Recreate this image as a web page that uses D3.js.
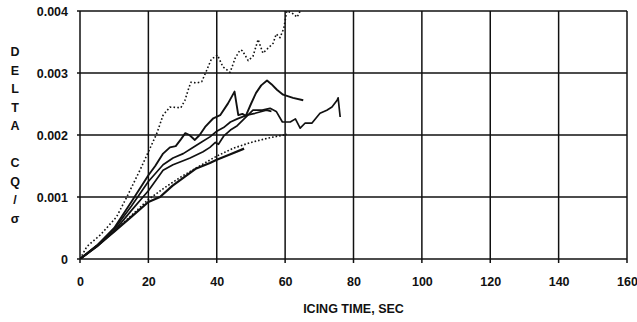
<!DOCTYPE html>
<html>
<head>
<meta charset="utf-8">
<script src="https://cdn.jsdelivr.net/npm/d3@7"></script>
<style>
  body { margin: 0; background: #fff; }
</style>
</head>
<body>
<div id="chart"></div>
<script>
// tick values / labels
const xTicks = [0, 20, 40, 60, 80, 100, 120, 140, 160];
const yTicks = [0, 0.001, 0.002, 0.003, 0.004];
const yTickLabels = ["0", "0.001", "0.002", "0.003", "0.004"];
const xTitle = "ICING TIME, SEC";
const yTitleLetters = ["D", "E", "L", "T", "A", "", "C", "Q", "/", "σ"];

// series: [icing time (sec), delta CQ/sigma]
const upperDotted = [[0,0],[2,0.0002],[6,0.00039],[10.7,0.00068],[13.7,0.001],[17.6,0.00144],[19.6,0.00168],[22.5,0.00203],[24.3,0.00232],[26.3,0.00245],[29.5,0.00244],[30.7,0.00256],[31.6,0.00272],[32.4,0.00285],[34.2,0.00284],[35.6,0.00286],[36.8,0.00301],[38.4,0.00322],[40.2,0.00329],[41.8,0.0031],[43.9,0.00301],[45.4,0.00324],[46.8,0.00337],[47.5,0.00336],[49.2,0.0032],[50.6,0.00327],[52.1,0.00354],[53.5,0.00332],[55,0.0034],[56.5,0.00348],[57.4,0.00363],[58.5,0.00357],[59.6,0.00372],[60.5,0.004],[62,0.00397],[63.5,0.0039],[64.4,0.004]];
const lowerDotted = [[0,0],[5,0.00021],[10,0.00045],[15,0.0007],[20,0.00096],[25,0.00116],[30,0.00134],[35,0.0015],[40,0.00166],[45,0.00179],[50,0.00188],[55,0.00195],[60.5,0.00201]];
const curveA = [[0,0],[5,0.00022],[10,0.0005],[15,0.00092],[20,0.00135],[22,0.0015],[24.3,0.0017],[26.3,0.0018],[28,0.00182],[29.5,0.00193],[30.8,0.00203],[32,0.002],[33.6,0.00192],[35,0.002],[36.6,0.00213],[39,0.00227],[41,0.00232],[43.3,0.00251],[45.2,0.0027],[46.3,0.00232],[47.5,0.00234],[48.5,0.00231],[50,0.0025],[51.5,0.00268],[53,0.0028],[54.7,0.00288],[56,0.00282],[57.6,0.00273],[59.4,0.00265],[62.3,0.0026],[65.3,0.00256]];
const curveB = [[0,0],[5,0.0002],[10,0.00045],[15,0.00078],[20,0.0011],[24.3,0.00143],[27.2,0.00152],[30,0.00158],[32.2,0.00163],[36,0.00173],[38,0.0018],[39.6,0.00188],[40.5,0.00185],[42,0.00198],[44,0.00208],[46,0.00215],[48,0.00226],[50.6,0.0024],[53.3,0.0024],[55.6,0.00243],[57.4,0.00238],[59.2,0.00221],[61.5,0.00221],[63,0.00226],[64.4,0.00211],[65.8,0.00219],[67.8,0.00219],[70.2,0.00235],[72.2,0.0024],[73.7,0.00245],[75.2,0.00256],[75.5,0.0026],[76.1,0.00229]];
const curveC = [[0,0],[5,0.00022],[10,0.00048],[15,0.00085],[20,0.00125],[24.3,0.00152],[27.2,0.00163],[30.2,0.0017],[32.8,0.00179],[35.7,0.00189],[38,0.00197],[40,0.00206],[42,0.00212],[44,0.00221],[46,0.00226],[48.8,0.00232],[51.2,0.00235],[54.5,0.0024],[56,0.00238]];
const curveD = [[0,0],[5,0.00021],[10,0.00044],[15,0.00068],[20,0.00092],[23.4,0.001],[27,0.00118],[30,0.0013],[34,0.00146],[38,0.00155],[40,0.0016],[44,0.00169],[48,0.00178]];

const margin = {top: 11, right: 10, bottom: 63, left: 80};
const width = 637 - margin.left - margin.right;
const height = 322 - margin.top - margin.bottom;

const svg = d3.select("#chart")
  .append("svg")
    .attr("width", width + margin.left + margin.right)
    .attr("height", height + margin.top + margin.bottom)
  .append("g")
    .attr("transform", `translate(${margin.left},${margin.top})`);

const x = d3.scaleLinear().domain([0, 160]).range([0, width]);
const y = d3.scaleLinear().domain([0, 0.004]).range([height, 0]);

const font = "'Liberation Sans', Arial, sans-serif";

// grid
svg.append("g")
  .selectAll("line")
  .data(xTicks)
  .enter()
  .append("line")
    .attr("x1", d => x(d)).attr("x2", d => x(d))
    .attr("y1", 0).attr("y2", height + 4)
    .attr("stroke", "#111")
    .attr("stroke-width", 1.5);

svg.append("g")
  .selectAll("line")
  .data(yTicks)
  .enter()
  .append("line")
    .attr("x1", -3).attr("x2", width)
    .attr("y1", d => y(d)).attr("y2", d => y(d))
    .attr("stroke", "#111")
    .attr("stroke-width", 1.5);

// X axis labels
svg.append("g")
  .attr("transform", `translate(0,${height})`)
  .call(d3.axisBottom(x).tickValues(xTicks).tickSize(0).tickPadding(18))
  .call(g => g.select(".domain").remove())
  .selectAll("text")
    .style("font-size", "12.5px")
    .style("font-weight", "bold")
    .style("font-family", font)
    .attr("fill", "#111");

svg.append("text")
  .attr("x", width / 2)
  .attr("y", height + 54)
  .style("text-anchor", "middle")
  .style("font-size", "12.5px")
  .style("font-weight", "bold")
  .style("font-family", font)
  .attr("fill", "#111")
  .text(xTitle);

// Y axis labels
svg.append("g")
  .call(d3.axisLeft(y).tickValues(yTicks).tickSize(0).tickPadding(12)
    .tickFormat((d, i) => yTickLabels[i]))
  .call(g => g.select(".domain").remove())
  .selectAll("text")
    .style("font-size", "12.5px")
    .style("font-weight", "bold")
    .style("font-family", font)
    .attr("fill", "#111");

// vertical Y title, one letter per row
svg.append("g")
  .selectAll("text")
  .data(yTitleLetters)
  .enter()
  .append("text")
    .attr("x", 15 - margin.left)
    .attr("y", (d, i) => 52 - margin.top + i * 18.5)
    .attr("dy", "0.35em")
    .style("text-anchor", "middle")
    .style("font-size", "12.5px")
    .style("font-weight", "bold")
    .style("font-family", font)
    .attr("fill", "#111")
    .text(d => d);

// curves
svg.append("clipPath")
  .attr("id", "plot-clip")
  .append("rect")
    .attr("width", width)
    .attr("height", height);

const line = d3.line()
  .x(d => x(d[0]))
  .y(d => y(d[1]));

const curves = [
  {data: curveD, width: 2.2, dash: null},
  {data: lowerDotted, width: 1.6, dash: "1.6,2"},
  {data: curveB, width: 1.7, dash: null},
  {data: curveC, width: 1.7, dash: null},
  {data: curveA, width: 1.9, dash: null},
  {data: upperDotted, width: 1.6, dash: "1.6,2.2"}
];

svg.append("g")
  .attr("clip-path", "url(#plot-clip)")
  .selectAll("path")
  .data(curves)
  .enter()
  .append("path")
    .attr("d", d => line(d.data))
    .attr("fill", "none")
    .attr("stroke", "#111")
    .attr("stroke-width", d => d.width)
    .attr("stroke-dasharray", d => d.dash)
    .attr("stroke-linejoin", "round");
</script>
</body>
</html>
